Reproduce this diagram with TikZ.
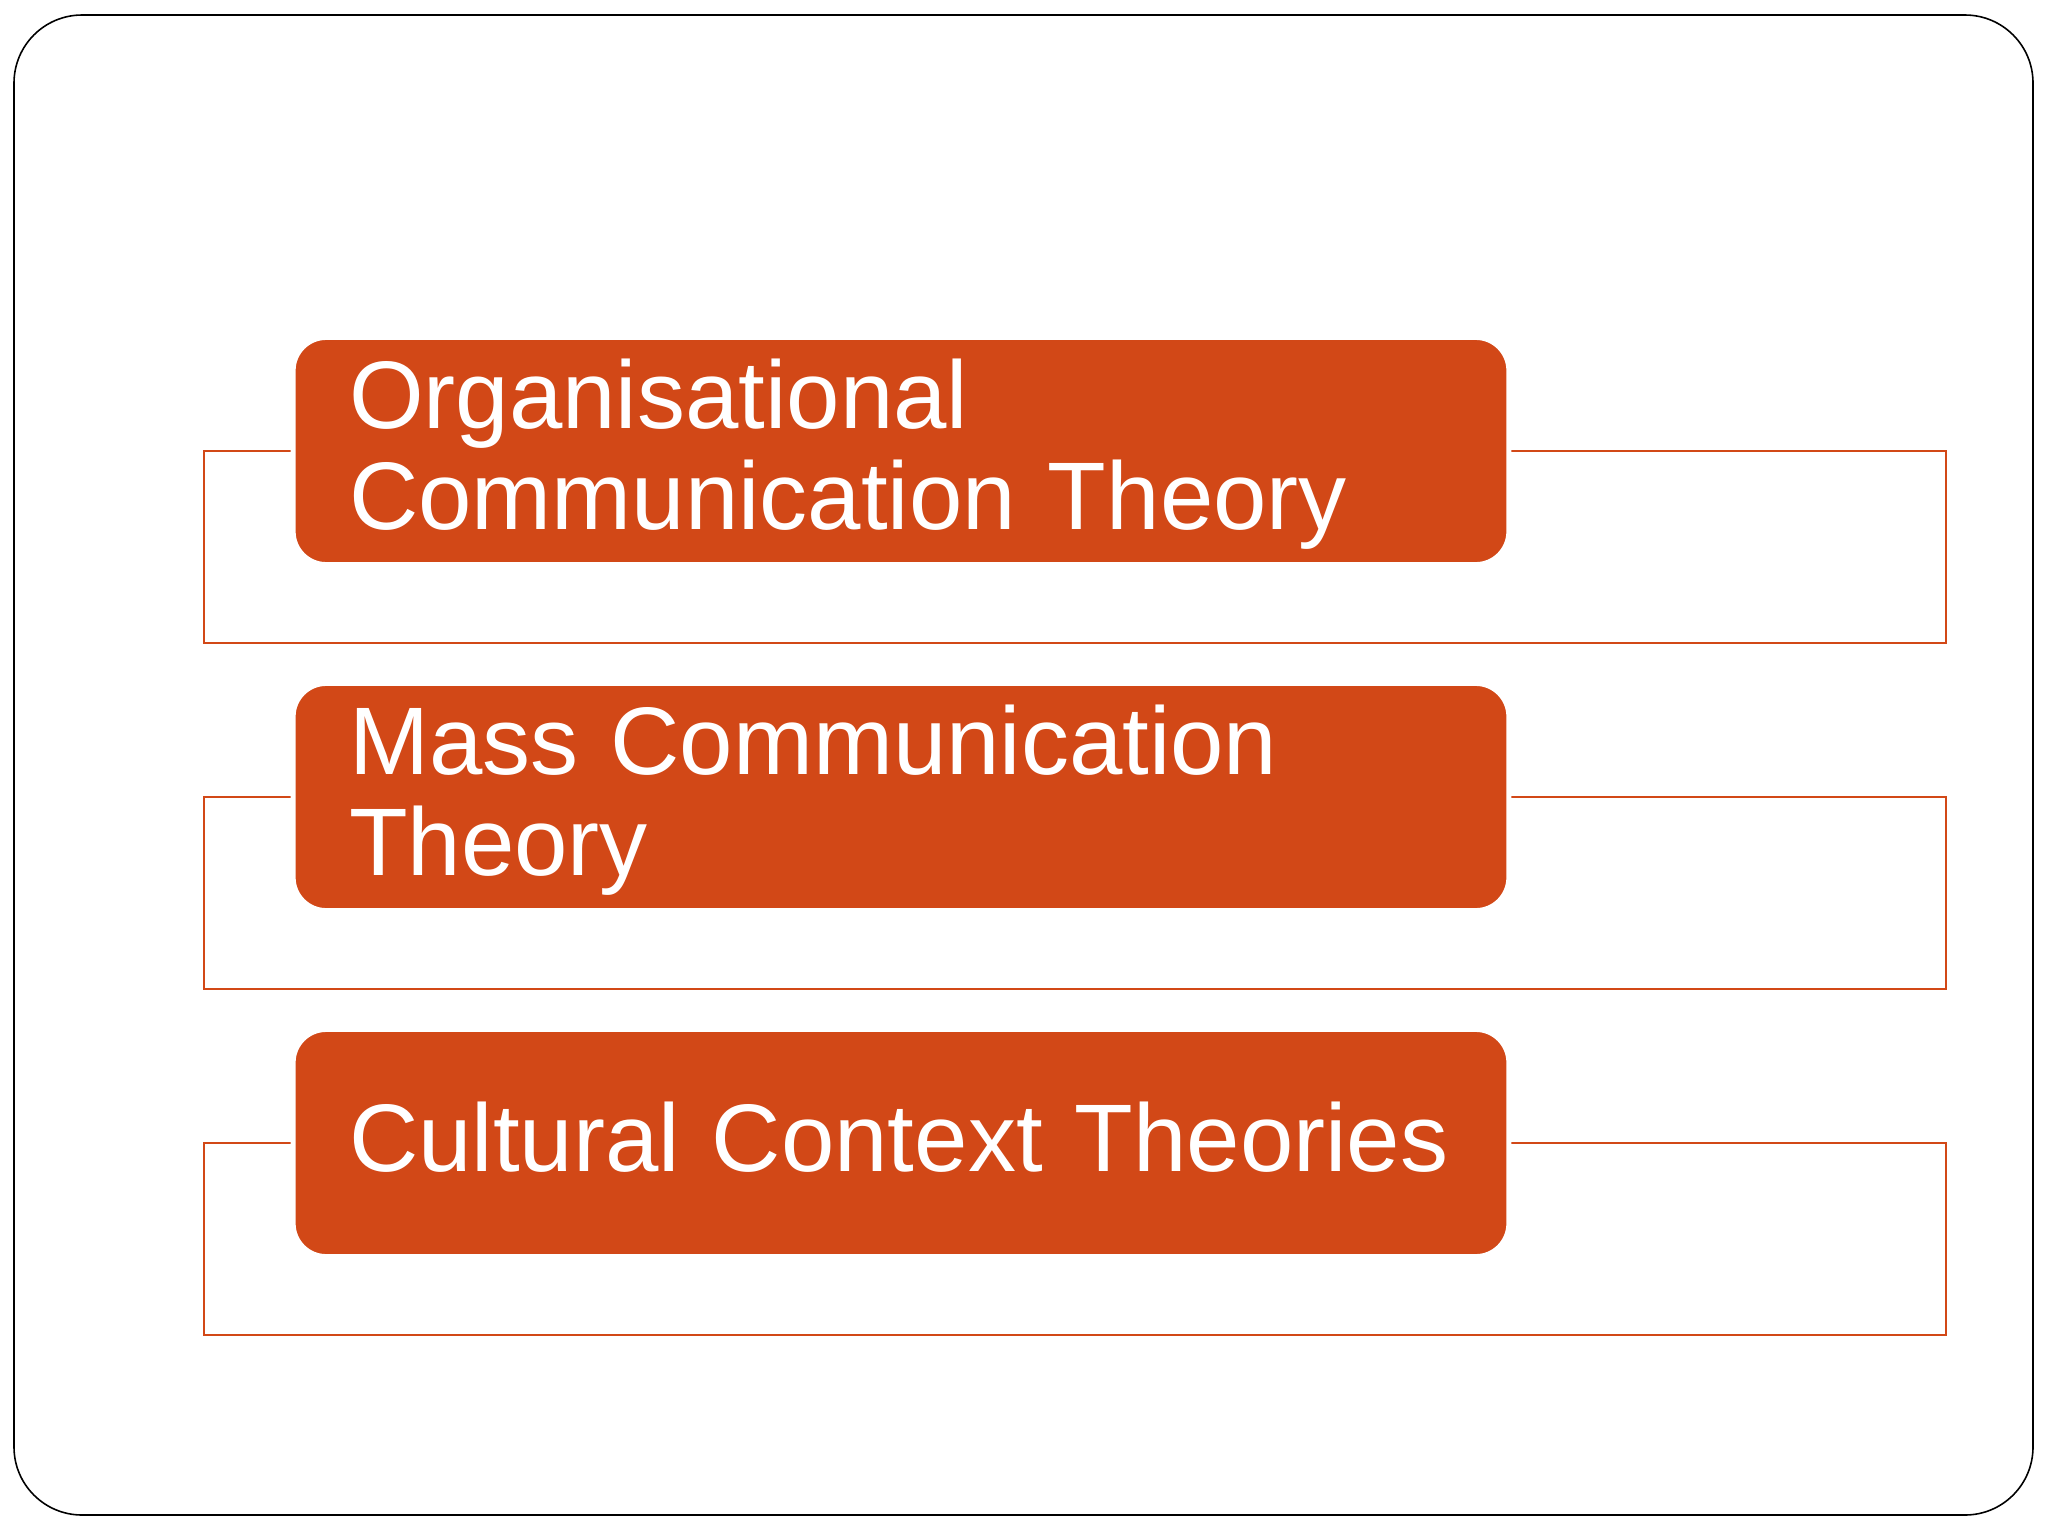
\documentclass[tikz,border=0pt]{standalone}
\usepackage{fontspec}
\setmainfont{Liberation Sans}
\definecolor{rust}{HTML}{D24817}

\begin{document}
\begin{tikzpicture}[x=0.01cm, y=-0.01cm,
    theory/.style={rectangle, rounded corners=0.33cm, fill=rust, draw=white,
        line width=0.05cm, text=white, text width=11.03cm, inner xsep=0.56cm,
        minimum height=2.27cm, align=left,
        font=\fontsize{27.3}{28.5}\selectfont},
    bracket/.style={draw=rust, line width=0.6pt}]

    \useasboundingbox (0, 0) rectangle (2048, 1536);

    % Slide frame
    \draw[line width=0.45pt, rounded corners=0.68cm] (14, 15) rectangle (2033, 1515);

    % Outline boxes behind the labels
    \foreach \y in {451, 797, 1143}{
        \draw[bracket] (204, \y) rectangle (1946, \y + 192);
    }

    % The three theories
    \node[theory] (org) at (901, 451) {\rule{0pt}{0.76cm}Organisational\\Communication Theory};
    \node[theory] (mass) at (901, 797) {\rule{0pt}{0.76cm}Mass Communication\\Theory};
    \node[theory, text height=0.72cm, text depth=0.16cm] (cult) at (901, 1143) {Cultural Context Theories};

\end{tikzpicture}
\end{document}
